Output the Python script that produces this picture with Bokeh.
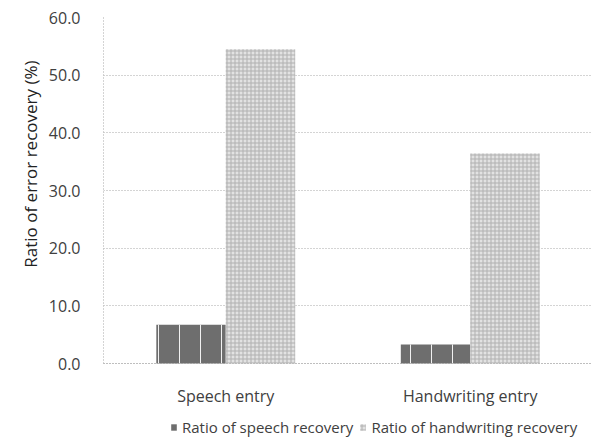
from bokeh.plotting import figure
from bokeh.models import (ColumnDataSource, FactorRange, Range1d, Legend, LegendItem, FixedTicker,
                          NumeralTickFormatter, Title)
from bokeh.transform import dodge
from bokeh.embed import file_html
from bokeh.resources import INLINE

categories = ["Speech entry", "Handwriting entry"]
speech_recovery = [6.7, 3.3]
handwriting_recovery = [54.5, 36.4]
series_names = ["Ratio of speech recovery", "Ratio of handwriting recovery"]
y_ticks = [0, 10, 20, 30, 40, 50, 60]
y_title = "Ratio of error recovery (%)"

src = ColumnDataSource(dict(cat=categories, sp=speech_recovery, hw=handwriting_recovery))

FONT = "Open Sans"
TXT = "#404040"

# frame spans 17..437 px; value 0 sits 74 px above the frame bottom
px_per_unit = 346 / 60
p = figure(x_range=FactorRange(*categories), y_range=Range1d(-74 / px_per_unit, 60),
           width=592, height=437, output_backend="svg", toolbar_location=None,
           min_border_left=103, min_border_right=0, min_border_top=17, min_border_bottom=0)
p.outline_line_color = None

r1 = p.vbar(x=dodge("cat", -0.142, range=p.x_range), top="sp", width=0.284, source=src,
            fill_color="#6e6e6e", line_color=None,
            hatch_pattern="|", hatch_color="#ffffff", hatch_scale=21, hatch_weight=1, hatch_alpha=0.9)
r2 = p.vbar(x=dodge("cat", 0.142, range=p.x_range), top="hw", width=0.284, source=src,
            fill_color="#e2e2e2", line_color=None,
            hatch_pattern="+", hatch_color="#b0b0b0", hatch_scale=4, hatch_weight=1)

p.yaxis.ticker = FixedTicker(ticks=y_ticks)
p.yaxis.formatter = NumeralTickFormatter(format="0.0")
p.yaxis.bounds = (0, 60)
p.ygrid.ticker = FixedTicker(ticks=y_ticks)
for ax in (p.xaxis[0], p.yaxis[0]):
    ax.major_label_text_font = FONT
    ax.major_label_text_color = TXT
    ax.major_tick_line_color = None
    ax.minor_tick_line_color = None
    ax.axis_line_color = "#a8a8a8"
    ax.axis_line_dash = "1 2"
p.yaxis.major_label_text_font_size = "16px"
p.yaxis.major_label_standoff = 17
p.xaxis.fixed_location = 0
p.xaxis.major_label_text_font_size = "16px"
p.xaxis.major_label_standoff = 15
p.xgrid.grid_line_color = None
p.ygrid.grid_line_color = "#a8a8a8"
p.ygrid.grid_line_dash = "1 2"

p.add_layout(Title(text=y_title, align="right", offset=43, standoff=7,
                   text_font=FONT, text_font_style="normal", text_font_size="17px",
                   text_color="#222222"), "left")

legend = Legend(items=[LegendItem(label=series_names[0], renderers=[r1]),
                       LegendItem(label=series_names[1], renderers=[r2])],
                orientation="horizontal", location=(67, 0),
                label_text_font=FONT, label_text_font_size="15px", label_text_color=TXT,
                glyph_width=7, glyph_height=8, label_standoff=5, spacing=6, padding=0, margin=0,
                border_line_color=None, background_fill_alpha=0)
p.add_layout(legend)

open("out.html", "w").write(file_html(p, INLINE))
